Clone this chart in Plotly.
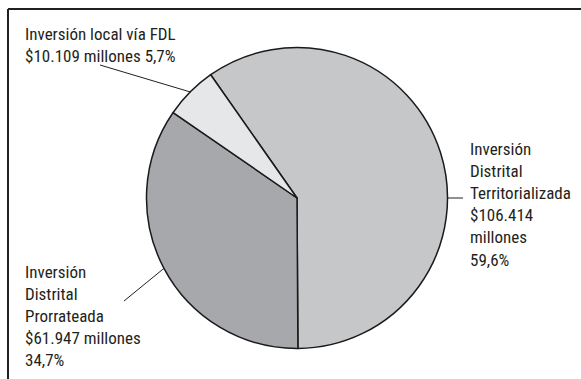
import math
import plotly.graph_objects as go

# Data
labels = ["Inversión Distrital Territorializada", "Inversión Distrital Prorrateada", "Inversión local vía FDL"]
values = [106414, 61947, 10109]
percents = ["59,6%", "34,7%", "5,7%"]
amounts = ["$106.414", "$61.947", "$10.109"]
colors = ["#c6c7c9", "#a7a8ab", "#e6e7e8"]

W, H = 581, 379
CX, CY, R = 297, 198, 150.5
ROT = -35

def px(x):
    return x / W

def py(y):
    return 1 - y / H

fig = go.Figure(go.Pie(
    labels=labels,
    values=values,
    sort=False,
    direction="clockwise",
    rotation=ROT,
    marker=dict(colors=colors, line=dict(color="#1a1a1a", width=1.5)),
    textinfo="none",
    hoverinfo="label+value+percent",
    domain=dict(x=[px(CX - R), px(CX + R)], y=[py(CY + R), py(CY - R)]),
    showlegend=False,
))

# mid angles of slices (clockwise from top, degrees)
total = sum(values)
mids = []
acc = ROT
for v in values:
    span = 360 * v / total
    mids.append(acc + span / 2)
    acc += span

def edge(angle_deg, rr=R):
    a = math.radians(angle_deg)
    return CX + rr * math.sin(a), CY - rr * math.cos(a)

font = dict(family="Liberation Sans Narrow, Arial Narrow, Roboto Condensed, sans-serif", size=17, color="#231f20")
line_style = dict(color="#231f20", width=1)
frame_style = dict(color="#231f20", width=2)

shapes = [
    # frame (top and left edges)
    dict(type="line", xref="paper", yref="paper", x0=px(8), x1=1, y0=py(9), y1=py(9), line=frame_style),
    dict(type="line", xref="paper", yref="paper", x0=px(8), x1=px(8), y0=py(9), y1=0, line=frame_style),
]

# leader lines
ex, ey = edge(mids[2])
shapes.append(dict(type="line", xref="paper", yref="paper", x0=px(ex), y0=py(ey), x1=px(100), y1=py(65), line=line_style))
ex, ey = edge(mids[1])
shapes.append(dict(type="line", xref="paper", yref="paper", x0=px(ex), y0=py(ey), x1=px(124), y1=py(301), line=line_style))
ex, ey = edge(90)
shapes.append(dict(type="line", xref="paper", yref="paper", x0=px(ex), y0=py(ey), x1=px(463), y1=py(ey), line=line_style))

annotations = [
    dict(text=f"Inversión local vía FDL<br>{amounts[2]} millones {percents[2]}",
         x=px(23), y=py(22), xanchor="left", yanchor="top"),
    dict(text=f"Inversión<br>Distrital<br>Prorrateada<br>{amounts[1]} millones<br>{percents[1]}",
         x=px(23), y=py(260), xanchor="left", yanchor="top"),
    dict(text=f"Inversión<br>Distrital<br>Territorializada<br>{amounts[0]}<br>millones<br>{percents[0]}",
         x=px(468), y=py(137), xanchor="left", yanchor="top"),
]
for a in annotations:
    a.update(xref="paper", yref="paper", showarrow=False, align="left", font=font)

fig.update_layout(
    width=W, height=H,
    margin=dict(l=0, r=0, t=0, b=0),
    paper_bgcolor="white", plot_bgcolor="white",
    shapes=shapes, annotations=annotations,
)

fig.write_html(
    "out.html",
    config={"displayModeBar": False},
    post_script=(
        "document.body.style.margin='0';"
        "document.body.style.overflow='hidden';"
        "document.documentElement.style.overflow='hidden';"
    ),
)
